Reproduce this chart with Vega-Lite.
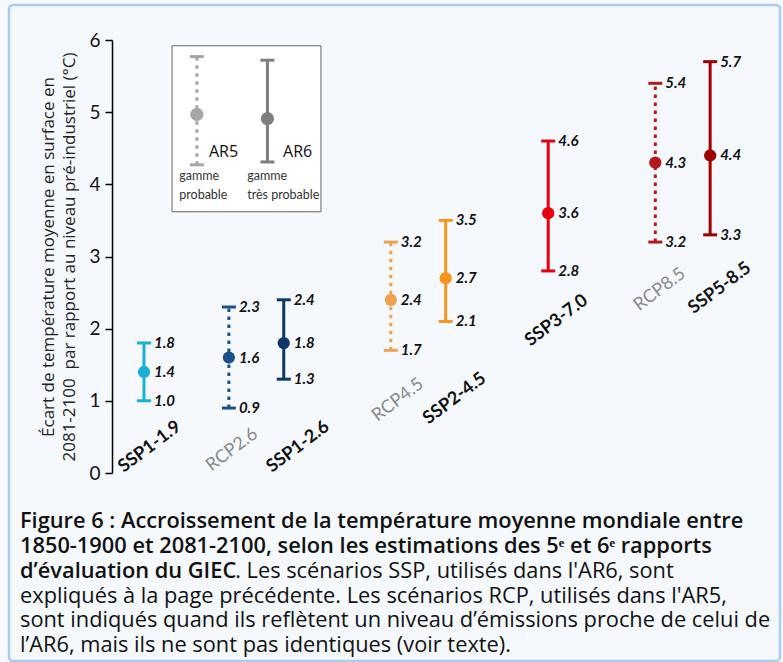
{
  "$schema": "https://vega.github.io/schema/vega-lite/v6.json",
  "width": 653,
  "height": 433,
  "autosize": {"type": "none"},
  "padding": {"left": 112, "top": 40, "right": 18, "bottom": 189},
  "background": "#f5f9fd",
  "config": {
    "view": {"stroke": null},
    "font": "Lato",
    "axisY": {
      "grid": true,
      "gridColor": "#d3d3d3",
      "gridWidth": 1.2,
      "domainColor": "#000000",
      "domainWidth": 1.5,
      "tickColor": "#000000",
      "tickWidth": 1.5,
      "tickSize": 7,
      "labelFont": "Lato",
      "labelFontSize": 19,
      "labelColor": "#111111",
      "labelPadding": 5,
      "titleFont": "Open Sans",
      "titleFontSize": 17,
      "titleFontWeight": "normal",
      "titleColor": "#222222",
      "titleLineHeight": 21,
      "titlePadding": 10
    }
  },
  "resolve": {"axis": {"y": "independent"}},
  "title": {
    "text": [
      "Figure 6 : Accroissement de la température moyenne mondiale entre",
      "1850-1900 et 2081-2100, selon les estimations des 5ᵉ et 6ᵉ rapports",
      "d’évaluation du GIEC"
    ],
    "subtitle": [
      "\u200b\u00a0\u00a0\u00a0\u00a0\u00a0\u00a0\u00a0\u00a0\u00a0\u00a0\u00a0\u00a0\u00a0\u00a0\u00a0\u00a0\u00a0\u00a0\u00a0\u00a0\u00a0\u00a0\u00a0\u00a0\u00a0\u00a0\u00a0\u00a0\u00a0\u00a0\u00a0\u00a0\u00a0\u00a0\u00a0\u00a0\u00a0\u00a0. Les scénarios SSP, utilisés dans l'AR6, sont",
      "expliqués à la page précédente. Les scénarios RCP, utilisés dans l'AR5,",
      "sont indiqués quand ils reflètent un niveau d’émissions proche de celui de",
      "l’AR6, mais ils ne sont pas identiques (voir texte)."
    ],
    "orient": "bottom",
    "anchor": "start",
    "frame": "group",
    "dx": -92,
    "offset": -151,
    "font": "Open Sans",
    "fontSize": 21.8,
    "fontWeight": 600,
    "color": "#111111",
    "lineHeight": 24.8,
    "subtitleFont": "Open Sans",
    "subtitleFontSize": 21.8,
    "subtitleFontWeight": "normal",
    "subtitleColor": "#111111",
    "subtitleLineHeight": 24.8,
    "subtitlePadding": -21.8
  },
  "datasets": {
    "s": [
      {"scenario": "SSP1-1.9", "report": "AR6", "pos": 0.49, "low": 1.0, "mid": 1.4, "high": 1.8, "lx": 0.58, "ly": 0.36},
      {"scenario": "RCP2.6", "report": "AR5", "pos": 1.79, "low": 0.9, "mid": 1.6, "high": 2.3, "lx": 1.84, "ly": 0.32},
      {"scenario": "SSP1-2.6", "report": "AR6", "pos": 2.63, "low": 1.3, "mid": 1.8, "high": 2.4, "lx": 2.85, "ly": 0.36},
      {"scenario": "RCP4.5", "report": "AR5", "pos": 4.27, "low": 1.7, "mid": 2.4, "high": 3.2, "lx": 4.38, "ly": 1.01},
      {"scenario": "SSP2-4.5", "report": "AR6", "pos": 5.11, "low": 2.1, "mid": 2.7, "high": 3.5, "lx": 5.25, "ly": 1.03},
      {"scenario": "SSP3-7.0", "report": "AR6", "pos": 6.68, "low": 2.8, "mid": 3.6, "high": 4.6, "lx": 6.81, "ly": 2.11},
      {"scenario": "RCP8.5", "report": "AR5", "pos": 8.32, "low": 3.2, "mid": 4.3, "high": 5.4, "lx": 8.39, "ly": 2.54},
      {"scenario": "SSP5-8.5", "report": "AR6", "pos": 9.16, "low": 3.3, "mid": 4.4, "high": 5.7, "lx": 9.31, "ly": 2.56}
    ],
    "lg": [
      {"report": "AR5", "pos": 1.30, "low": 4.27, "mid": 4.97, "high": 5.77},
      {"report": "AR6", "pos": 2.38, "low": 4.31, "mid": 4.91, "high": 5.72}
    ],
    "lgbig": [
      {"t": "AR5", "pos": 1.485, "y": 4.45},
      {"t": "AR6", "pos": 2.62, "y": 4.45}
    ],
    "lgsmall": [
      {"t": "gamme", "pos": 1.03, "y": 4.12},
      {"t": "probable", "pos": 1.03, "y": 3.85},
      {"t": "gamme", "pos": 2.07, "y": 4.12},
      {"t": "très probable", "pos": 2.07, "y": 3.85}
    ]
  },
  "layer": [
    {
      "data": {"values": [{"x1": -1.577, "x2": 10.23, "y1": 6.485, "y2": -2.6047}]},
      "mark": {"type": "rect", "filled": false, "stroke": "#a9ccee", "strokeWidth": 2.5, "cornerRadius": 4, "clip": false},
      "encoding": {
        "x": {"field": "x1", "type": "quantitative", "axis": null},
        "x2": {"field": "x2"},
        "y": {"field": "y1", "type": "quantitative", "axis": null},
        "y2": {"field": "y2"}
      }
    },
    {
      "data": {"name": "s"},
      "mark": {"type": "rule", "strokeWidth": 3, "strokeCap": "butt", "clip": false},
      "encoding": {
        "x": {"field": "pos", "type": "quantitative", "scale": {"domain": [0, 10], "nice": false, "zero": false}, "axis": null},
        "y": {"field": "low", "type": "quantitative", "scale": {"domain": [0, 6], "nice": false},
              "axis": {"values": [0, 1, 2, 3, 4, 5, 6], "title": ["Écart de température moyenne en surface en", "2081-2100\u00a0 par rapport au niveau pré-industriel (°C)"]}},
        "y2": {"field": "high"},
        "color": {"field": "scenario", "type": "nominal",
                  "scale": {"domain": ["SSP1-1.9", "RCP2.6", "SSP1-2.6", "RCP4.5", "SSP2-4.5", "SSP3-7.0", "RCP8.5", "SSP5-8.5"],
                            "range": ["#1ab0d8", "#1d4f8a", "#0d3766", "#eda24f", "#f7941e", "#e8000f", "#b01a1a", "#a00000"]},
                  "legend": null},
        "strokeDash": {"field": "report", "type": "nominal", "scale": {"domain": ["AR5", "AR6"], "range": [[3.5, 4.5], [1, 0]]}, "legend": null}
      }
    },
    {
      "data": {"name": "s"},
      "transform": [{"fold": ["low", "high"], "as": ["key", "value"]}],
      "mark": {"type": "tick", "orient": "horizontal", "size": 14, "thickness": 3, "opacity": 1, "clip": false},
      "encoding": {
        "x": {"field": "pos", "type": "quantitative", "axis": null},
        "y": {"field": "value", "type": "quantitative", "axis": null},
        "color": {"field": "scenario", "type": "nominal", "legend": null}
      }
    },
    {
      "data": {"name": "s"},
      "mark": {"type": "circle", "size": 150, "opacity": 1, "clip": false},
      "encoding": {
        "x": {"field": "pos", "type": "quantitative", "axis": null},
        "y": {"field": "mid", "type": "quantitative", "axis": null},
        "color": {"field": "scenario", "type": "nominal", "legend": null}
      }
    },
    {
      "data": {"name": "s"},
      "transform": [{"fold": ["low", "mid", "high"], "as": ["key", "value"]}],
      "mark": {"type": "text", "align": "left", "baseline": "middle", "dx": 10, "fontSize": 15, "fontStyle": "italic", "fontWeight": "bold", "color": "#111111", "clip": false},
      "encoding": {
        "x": {"field": "pos", "type": "quantitative", "axis": null},
        "y": {"field": "value", "type": "quantitative", "axis": null},
        "text": {"field": "value", "type": "quantitative", "format": ".1f"}
      }
    },
    {
      "data": {"name": "s"},
      "transform": [{"filter": "datum.report === 'AR6'"}],
      "mark": {"type": "text", "align": "center", "baseline": "middle", "angle": 323, "fontSize": 18, "fontWeight": "bold", "color": "#111111", "clip": false},
      "encoding": {
        "x": {"field": "lx", "type": "quantitative", "axis": null},
        "y": {"field": "ly", "type": "quantitative", "axis": null},
        "text": {"field": "scenario", "type": "nominal"}
      }
    },
    {
      "data": {"name": "s"},
      "transform": [{"filter": "datum.report === 'AR5'"}],
      "mark": {"type": "text", "align": "center", "baseline": "middle", "angle": 323, "fontSize": 18, "fontWeight": "normal", "color": "#8a8a8a", "clip": false},
      "encoding": {
        "x": {"field": "lx", "type": "quantitative", "axis": null},
        "y": {"field": "ly", "type": "quantitative", "axis": null},
        "text": {"field": "scenario", "type": "nominal"}
      }
    },
    {
      "data": {"values": [{"x1": 0.92, "x2": 3.2, "y1": 5.92, "y2": 3.62}]},
      "mark": {"type": "rect", "fill": "#ffffff", "stroke": "#666666", "strokeWidth": 1, "clip": false},
      "encoding": {
        "x": {"field": "x1", "type": "quantitative", "axis": null},
        "x2": {"field": "x2"},
        "y": {"field": "y1", "type": "quantitative", "axis": null},
        "y2": {"field": "y2"}
      }
    },
    {
      "data": {"name": "lg"},
      "transform": [{"filter": "datum.report === 'AR5'"}],
      "layer": [
        {"mark": {"type": "rule", "strokeWidth": 3, "strokeCap": "butt", "color": "#a6a6a6", "strokeDash": [3.5, 4.5]},
         "encoding": {"x": {"field": "pos", "type": "quantitative", "axis": null}, "y": {"field": "low", "type": "quantitative", "axis": null}, "y2": {"field": "high"}}},
        {"transform": [{"fold": ["low", "high"], "as": ["key", "value"]}],
         "mark": {"type": "tick", "orient": "horizontal", "size": 14, "thickness": 3, "opacity": 1, "color": "#a6a6a6"},
         "encoding": {"x": {"field": "pos", "type": "quantitative", "axis": null}, "y": {"field": "value", "type": "quantitative", "axis": null}}},
        {"mark": {"type": "circle", "size": 175, "opacity": 1, "color": "#a6a6a6"},
         "encoding": {"x": {"field": "pos", "type": "quantitative", "axis": null}, "y": {"field": "mid", "type": "quantitative", "axis": null}}}
      ]
    },
    {
      "data": {"name": "lg"},
      "transform": [{"filter": "datum.report === 'AR6'"}],
      "layer": [
        {"mark": {"type": "rule", "strokeWidth": 3, "strokeCap": "butt", "color": "#7f7f7f"},
         "encoding": {"x": {"field": "pos", "type": "quantitative", "axis": null}, "y": {"field": "low", "type": "quantitative", "axis": null}, "y2": {"field": "high"}}},
        {"transform": [{"fold": ["low", "high"], "as": ["key", "value"]}],
         "mark": {"type": "tick", "orient": "horizontal", "size": 14, "thickness": 3, "opacity": 1, "color": "#7f7f7f"},
         "encoding": {"x": {"field": "pos", "type": "quantitative", "axis": null}, "y": {"field": "value", "type": "quantitative", "axis": null}}},
        {"mark": {"type": "circle", "size": 175, "opacity": 1, "color": "#7f7f7f"},
         "encoding": {"x": {"field": "pos", "type": "quantitative", "axis": null}, "y": {"field": "mid", "type": "quantitative", "axis": null}}}
      ]
    },
    {
      "data": {"name": "lgbig"},
      "mark": {"type": "text", "align": "left", "baseline": "middle", "fontSize": 16, "font": "Open Sans", "color": "#111111"},
      "encoding": {
        "x": {"field": "pos", "type": "quantitative", "axis": null},
        "y": {"field": "y", "type": "quantitative", "axis": null},
        "text": {"field": "t", "type": "nominal"}
      }
    },
    {
      "data": {"name": "lgsmall"},
      "mark": {"type": "text", "align": "left", "baseline": "middle", "fontSize": 12.5, "color": "#333333"},
      "encoding": {
        "x": {"field": "pos", "type": "quantitative", "axis": null},
        "y": {"field": "y", "type": "quantitative", "axis": null},
        "text": {"field": "t", "type": "nominal"}
      }
    }
  ]
}
